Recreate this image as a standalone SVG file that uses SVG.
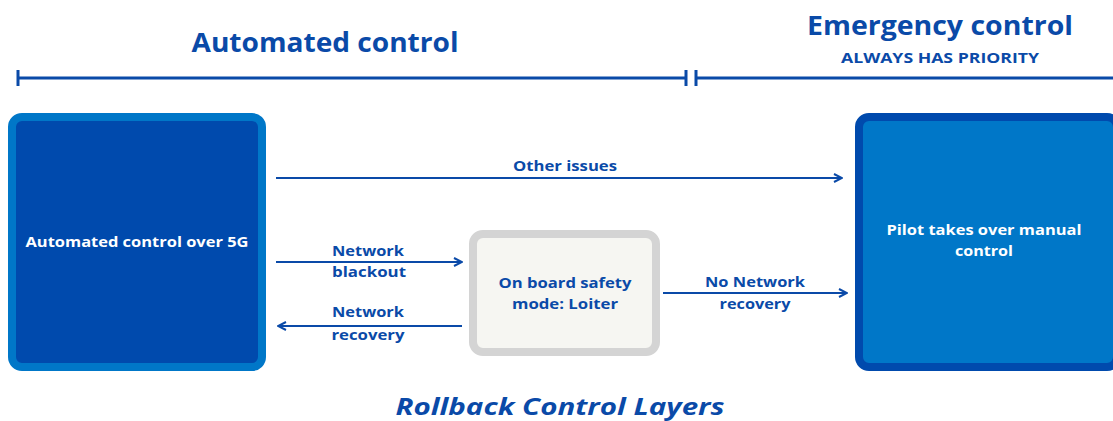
<svg xmlns="http://www.w3.org/2000/svg" width="1113" height="421" viewBox="0 0 1113 421">
<style>
text{font-family:"Open Sans","DejaVu Sans",sans-serif;font-weight:700;text-anchor:middle}
.t{fill:#0a4aa8}
.w{fill:#ffffff;font-size:15px}
.lbl{fill:#0a4aa8;font-size:15px}
.ln{stroke:#0a4aa8;stroke-width:2;fill:none}
.bar{stroke:#0a4aa8;stroke-width:3;fill:none}
</style>
<defs>
<marker id="ah" viewBox="0 0 10 10" refX="9" refY="5" markerWidth="5" markerHeight="5" orient="auto-start-reverse" markerUnits="strokeWidth">
<path d="M1,1 L9,5 L1,9" fill="none" stroke="#0a4aa8" stroke-width="2"/>
</marker>
</defs>
<g id="headers">
<text class="t" x="325" y="52" font-size="26" textLength="267" lengthAdjust="spacingAndGlyphs">Automated control</text>
<text class="t" x="940" y="35" font-size="27" textLength="266" lengthAdjust="spacingAndGlyphs">Emergency control</text>
<text class="t" x="940" y="63" font-size="14" textLength="198" lengthAdjust="spacingAndGlyphs">ALWAYS HAS PRIORITY</text>
<path class="bar" d="M18,78 H686 M18,70 V86 M686,70 V86 M696,78 H1113 M696,70 V86"/>
</g>
<g id="node-automated">
<rect x="12" y="117" width="250" height="250" rx="10" fill="#004aad" stroke="#0077c8" stroke-width="8"/>
<text class="w" x="137" y="247" textLength="223" lengthAdjust="spacingAndGlyphs">Automated control over 5G</text>
</g>
<g id="node-loiter">
<rect x="473" y="234" width="183" height="118" rx="10" fill="#f6f6f2" stroke="#d4d4d4" stroke-width="8"/>
<text class="lbl" x="565" y="288" font-size="15.5" textLength="133" lengthAdjust="spacingAndGlyphs">On board safety</text>
<text class="lbl" x="565" y="309" font-size="15.5" textLength="106" lengthAdjust="spacingAndGlyphs">mode: Loiter</text>
</g>
<g id="node-pilot">
<rect x="859" y="117" width="258" height="250" rx="10" fill="#0077c8" stroke="#004aad" stroke-width="8"/>
<text class="w" x="984" y="235" textLength="195" lengthAdjust="spacingAndGlyphs">Pilot takes over manual</text>
<text class="w" x="984" y="256" textLength="58" lengthAdjust="spacingAndGlyphs">control</text>
</g>
<g id="connectors">
<line class="ln" x1="276" y1="178" x2="842" y2="178" marker-end="url(#ah)"/>
<text class="lbl" x="565" y="171" textLength="104" lengthAdjust="spacingAndGlyphs">Other issues</text>
<line class="ln" x1="276" y1="262" x2="462" y2="262" marker-end="url(#ah)"/>
<text class="lbl" x="368" y="256" textLength="72" lengthAdjust="spacingAndGlyphs">Network</text>
<text class="lbl" x="369" y="277" textLength="74" lengthAdjust="spacingAndGlyphs">blackout</text>
<line class="ln" x1="462" y1="326" x2="278" y2="326" marker-end="url(#ah)"/>
<text class="lbl" x="368" y="317" textLength="72" lengthAdjust="spacingAndGlyphs">Network</text>
<text class="lbl" x="368" y="340" textLength="73" lengthAdjust="spacingAndGlyphs">recovery</text>
<line class="ln" x1="663" y1="293" x2="847" y2="293" marker-end="url(#ah)"/>
<text class="lbl" x="755" y="287" textLength="100" lengthAdjust="spacingAndGlyphs">No Network</text>
<text class="lbl" x="755" y="309" textLength="71" lengthAdjust="spacingAndGlyphs">recovery</text>
</g>
<g id="caption">
<text class="t" x="560" y="415" font-size="24" font-style="italic" textLength="329" lengthAdjust="spacingAndGlyphs">Rollback Control Layers</text>
</g>
</svg>
